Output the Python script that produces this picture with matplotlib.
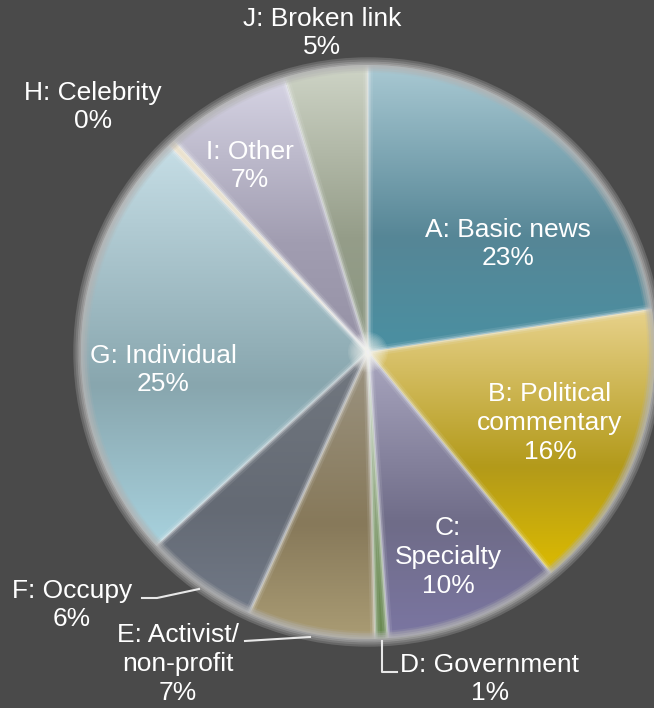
import numpy as np
import matplotlib
matplotlib.use("Agg")
import matplotlib.pyplot as plt
from matplotlib.colors import to_rgb
from matplotlib.patches import Circle

# ---- data ----
categories = ["A: Basic news", "B: Political\ncommentary", "C:\nSpecialty", "D: Government",
              "E: Activist/\nnon-profit", "F: Occupy", "G: Individual", "H: Celebrity",
              "I: Other", "J: Broken link"]
values = [22.6, 16.4, 9.9, 0.7, 7.2, 6.4, 24.6, 0.4, 7.1, 4.7]

# gradient colours (top, middle, bottom) per slice
grad_colors = [
    ("#a9c9d3", "#568696", "#4a90a2"),
    ("#e8d28c", "#b39a1a", "#dcbb00"),
    ("#aaa7c0", "#6f6c88", "#7b76a2"),
    ("#8eab7c", "#74925e", "#6a8a52"),
    ("#9c9482", "#87795a", "#aa9c74"),
    ("#727880", "#646a74", "#717987"),
    ("#c6dee6", "#88a6ae", "#a8d2de"),
    ("#ece0c4", "#e6d8b8", "#e0d0ac"),
    ("#d6d4e4", "#a19db1", "#9591a5"),
    ("#ced4c6", "#959d89", "#8a9680"),
]

# label layout (pixel coordinates of text block centres)
label_pos = [(508, 244), (550, 423), (448, 557), (490, 679), (178, 664),
             (72, 605), (163, 370), (93, 107), (250, 166), (322, 33)]
leaders = {
    3: [(382, 641), (382, 672), (397, 672)],
    4: [(310, 637), (245, 641)],
    5: [(199, 589), (157, 598), (142, 598)],
}

W, H = 654, 708
BG = "#4a4a4a"
cx, cy, R = 368, H - 352, 287

fig = plt.figure(figsize=(W / 100, H / 100), dpi=100, facecolor=BG)
ax = fig.add_axes([0, 0, 1, 1])
ax.set_facecolor(BG)

wedges, _ = ax.pie(values, startangle=90, counterclock=False, center=(cx, cy),
                   radius=R, colors=[c[1] for c in grad_colors], frame=True,
                   wedgeprops=dict(linewidth=0))
ax.set_xlim(0, W)
ax.set_ylim(0, H)
ax.set_aspect("equal")
ax.axis("off")


def make_grad(cols, n=256):
    t = np.linspace(0, 1, n)
    c0, c1, c2 = (np.array(to_rgb(c)) for c in cols)
    out = np.zeros((n, 1, 3))
    for i, tt in enumerate(t):
        if tt < 0.6:
            f = tt / 0.6
            out[i, 0] = c0 * (1 - f) + c1 * f
        else:
            f = (tt - 0.6) / 0.4
            out[i, 0] = c1 * (1 - f) + c2 * f
    return out


for w, cols in zip(wedges, grad_colors):
    th = np.radians(np.linspace(w.theta1, w.theta2, 100))
    xs = np.concatenate([[cx], cx + R * np.cos(th)])
    ys = np.concatenate([[cy], cy + R * np.sin(th)])
    img = ax.imshow(make_grad(cols), extent=[xs.min(), xs.max() + 1, ys.min(), ys.max()],
                    origin="upper", aspect="auto", interpolation="bilinear", zorder=2)
    img.set_clip_path(w)

# separators (soft light lines)
clip_circle = Circle((cx, cy), R, transform=ax.transData, facecolor="none", edgecolor="none")
ax.add_patch(clip_circle)
for w in wedges:
    a = np.radians(w.theta1)
    for lw, al in [(7, 0.10), (4, 0.22), (1.8, 0.4)]:
        ln, = ax.plot([cx, cx + R * np.cos(a)], [cy, cy + R * np.sin(a)],
                      color="#f0f2f4", lw=lw, alpha=al, zorder=3, solid_capstyle="butt")
        ln.set_clip_path(clip_circle)

# centre glow (soft)
for rr in np.linspace(20, 1.5, 14):
    ax.add_patch(Circle((cx, cy), rr, facecolor="#fbfbf6", edgecolor="none", alpha=0.09, zorder=4))

# outer ring glow
for dr, lw, al in [(0, 11, 0.18), (0, 8, 0.25), (0, 5, 0.4), (0, 2.5, 0.5), (-4, 3, 0.15), (5, 4, 0.12)]:
    ax.add_patch(Circle((cx, cy), R + dr, facecolor="none", edgecolor="#b4b4b4",
                        lw=lw, alpha=al, zorder=5))

# labels
for i, (lab, v) in enumerate(zip(categories, values)):
    px, py = label_pos[i]
    ax.text(px, H - py, f"{lab}\n{round(v)}%", ha="center", va="center",
            color="white", fontsize=19, family=["Liberation Sans", "DejaVu Sans"],
            linespacing=1.26, zorder=6)

for i, pts in leaders.items():
    xs = [p[0] for p in pts]
    ys = [H - p[1] for p in pts]
    ax.plot(xs, ys, color="#e8e8e8", lw=1.5, zorder=6)

fig.savefig("out.png", dpi=100, facecolor=BG)
